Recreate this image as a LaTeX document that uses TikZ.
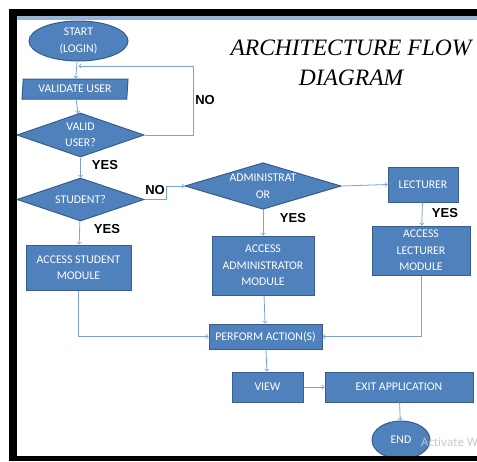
\documentclass[tikz,border=0pt]{standalone}
\usepackage{fontspec}
\setmainfont{Liberation Serif}
\setsansfont{Carlito}
\newfontfamily\yesnofont{Liberation Sans}
\newfontfamily\osfont{Noto Sans}
\usepackage{tikz}
\usetikzlibrary{arrows,shapes.geometric}
\definecolor{boxblue}{HTML}{4F81BD}
\definecolor{boxedge}{HTML}{385D8A}
\definecolor{linkblue}{HTML}{7AA2D6}
\definecolor{stripblue}{HTML}{95B3D7}

\begin{document}
\begin{tikzpicture}[x=1pt,y=-1pt,>=to,
        box/.style={draw=boxedge,line width=1pt,fill=boxblue,text=white,align=center,
            inner sep=0pt,font=\sffamily\fontsize{11.8}{16.5}\selectfont},
        term/.style={box,ellipse},
        choice/.style={box,diamond,aspect=3},
        task/.style={box,rectangle},
        io/.style={box,trapezium,trapezium left angle=81,trapezium right angle=99,
            trapezium stretches body},
        link/.style={draw=linkblue,line width=0.8pt,->},
        answer/.style={font=\yesnofont\bfseries\fontsize{13}{15}\selectfont},
        heading/.style={font=\itshape\fontsize{23.5}{30}\selectfont,anchor=base}]
    \clip (0,0) rectangle (477,461);
    \fill[white] (0,0) rectangle (477,461);

    % title
    \node[heading] (title1) at (351,55) {ARCHITECTURE FLOW};
    \node[heading] (title2) at (351,85) {DIAGRAM};

    % login and check
    \node[term,minimum width=99pt,minimum height=40pt] (start) at (78.5,41) {START\\(LOGIN)};
    \node[io,minimum width=106pt,minimum height=20pt] (validate) at (75,89) {VALIDATE USER};
    \node[choice,minimum width=127pt,minimum height=44pt] (valid) at (80.5,135) {VALID\\USER?};
    \node[choice,minimum width=127pt,minimum height=43pt] (student) at (80.5,199.5) {STUDENT?};
    \node[choice,minimum width=156pt,minimum height=46pt] (admin) at (263,186) {ADMINISTRAT\\OR};
    \node[task,minimum width=70pt,minimum height=35pt] (lecturer) at (423,184.5) {LECTURER};

    % modules
    \node[task,minimum width=105pt,minimum height=45pt] (stumod) at (78.5,267.5) {ACCESS STUDENT\\MODULE};
    \node[task,minimum width=102pt,minimum height=59pt] (admmod) at (263,265.5) {ACCESS\\ADMINISTRATOR\\MODULE};
    \node[task,minimum width=98pt,minimum height=49pt] (lecmod) at (421,250.5) {ACCESS\\LECTURER\\MODULE};

    % actions
    \node[task,minimum width=113pt,minimum height=25pt] (perform) at (265.5,336.5) {PERFORM ACTION(S)};
    \node[task,minimum width=71pt,minimum height=30pt] (view) at (267.5,387) {VIEW};
    \node[task,minimum width=148pt,minimum height=30pt] (exit) at (399,387) {EXIT APPLICATION};
    \node[term,minimum width=58pt,minimum height=38pt] (end) at (401,440) {END};

    % bends
    \coordinate (noturn) at (193,66);
    \coordinate (nobend) at (166,186);

    \draw[link] (start) -- (validate);
    \draw[link] (validate) -- (valid);
    \draw[link,-] (valid.east) -- (valid.east -| noturn) -- (noturn);
    \draw[link] (noturn) -- (noturn -| start);
    \draw[link] (valid) -- (student);
    \draw[link] (student.east) -| (nobend) -- (admin.west);
    \draw[link] (student) -- (stumod);
    \draw[link] (admin) -- (admmod);
    \draw[link] (admin.east) -- (lecturer.west);
    \draw[link] (lecturer) -- (lecmod);
    \draw[link] (stumod.south) |- (perform.west);
    \draw[link] (admmod) -- (perform);
    \draw[link] (lecmod.south) |- (perform.east);
    \draw[link] (perform) -- (view);
    \draw[link] (view) -- (exit);
    \draw[link] (exit) -- (end);

    % answers
    \node[answer] (no1) at (205,100) {NO};
    \node[answer] (yes1) at (105,165) {YES};
    \node[answer] (no2) at (155,190) {NO};
    \node[answer] (yes2) at (107,229) {YES};
    \node[answer] (yes3) at (293,218) {YES};
    \node[answer] (yes4) at (445,213) {YES};

    \node[font=\osfont\fontsize{11.5}{14}\selectfont,text=black!22,anchor=base west,inner sep=0pt] (mark) at (421,446) {Activate W};

    % frame
    \fill[black] (9,9) rectangle (477,16);
    \fill[black] (9,9) rectangle (17,461);
    \fill[black] (9,456) rectangle (477,461);
    \fill[stripblue] (17,16) rectangle (477,20);
\end{tikzpicture}
\end{document}
